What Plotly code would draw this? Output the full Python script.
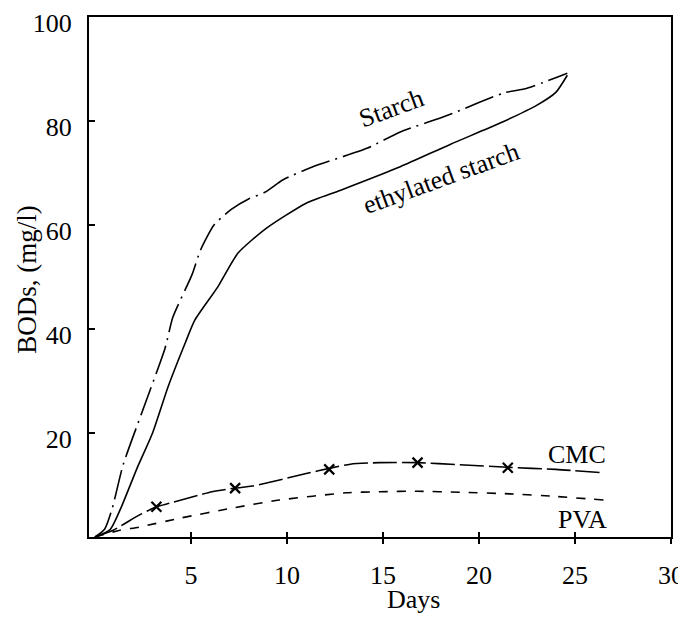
import plotly.graph_objects as go

# ---- data ----
starch_x = [0, 0.5, 0.9, 1.46, 2.45, 3.65, 4.06, 5.05, 5.5, 6.2, 7.1, 8.0, 8.85, 9.8, 11.35, 14.2, 15.9, 18.3, 21.3, 22.5, 24.6]
starch_y = [0, 1.5, 5.5, 13.8, 24, 36.3, 42.3, 50.4, 55.2, 60, 63, 65, 66.3, 68.7, 71.2, 74.8, 77.9, 81, 85.4, 86.3, 89.2]

ethyl_x = [0, 0.8, 1.4, 2.2, 3.0, 3.8, 4.7, 5.2, 6.4, 7.45, 8.9, 11.0, 12.8, 15.9, 18.5, 21.1, 23.0, 24.0, 24.6]
ethyl_y = [0, 1.5, 6, 13.3, 20, 28.8, 37.3, 41.7, 48.1, 54.6, 59.3, 64.2, 66.7, 71.2, 75.5, 79.6, 83, 85.5, 88.8]

cmc_x = [0, 0.95, 2.3, 3.2, 3.9, 6.1, 7.3, 8.2, 11.0, 12.2, 13.3, 14.8, 16.8, 19.0, 21.5, 24.0, 26.3]
cmc_y = [0, 1.3, 4.2, 5.8, 6.5, 8.7, 9.4, 9.8, 12.2, 13.2, 14.0, 14.3, 14.3, 13.9, 13.4, 13.0, 12.4]

cmc_mark_x = [3.2, 7.3, 12.2, 16.8, 21.5]
cmc_mark_y = [5.8, 9.4, 13.0, 14.3, 13.3]

pva_x = [0, 1.3, 2.3, 4.4, 7.2, 9.6, 13.1, 14.8, 16.8, 19.0, 21.6, 24.0, 26.5]
pva_y = [0, 1.3, 1.9, 3.6, 5.6, 7.1, 8.5, 8.7, 8.8, 8.6, 8.3, 7.8, 7.1]

x_ticks = [5, 10, 15, 20, 25, 30]
y_ticks = [20, 40, 60, 80, 100]

FONT = "Liberation Serif, Times New Roman, serif"
FS = 26

fig = go.Figure()
fig.add_trace(go.Scatter(x=starch_x, y=starch_y, mode="lines", name="Starch",
                         line=dict(color="black", width=1.6, dash="30px,6px,2px,6px", shape="spline", smoothing=0.6)))
fig.add_trace(go.Scatter(x=ethyl_x, y=ethyl_y, mode="lines", name="ethylated starch",
                         line=dict(color="black", width=1.6, shape="spline", smoothing=0.6)))
fig.add_trace(go.Scatter(x=cmc_x, y=cmc_y, mode="lines", name="CMC",
                         line=dict(color="black", width=1.6, dash="24px,5px", shape="spline", smoothing=0.6)))
fig.add_trace(go.Scatter(x=cmc_mark_x, y=cmc_mark_y, mode="markers", name="CMC points",
                         marker=dict(symbol="x-thin", size=10, line=dict(color="black", width=2.2))))
fig.add_trace(go.Scatter(x=pva_x, y=pva_y, mode="lines", name="PVA",
                         line=dict(color="black", width=1.6, dash="9px,9px", shape="spline", smoothing=0.6)))
# invisible trace on secondary x axis to show inside ticks (crossing tick marks)
fig.add_trace(go.Scatter(x=[0], y=[0], xaxis="x2", mode="markers", marker=dict(opacity=0),
                         showlegend=False, hoverinfo="skip"))

annos = [
    dict(x=15.4, y=82.5, text="Starch", textangle=-20),
    dict(x=18.0, y=69.0, text="ethylated starch", textangle=-20),
    dict(x=25.1, y=15.8, text="CMC", textangle=0),
    dict(x=25.4, y=3.3, text="PVA", textangle=0),
]
for a in annos:
    fig.add_annotation(x=a["x"], y=a["y"], xref="x", yref="y", text=a["text"], textangle=a["textangle"],
                       showarrow=False, font=dict(family=FONT, size=FS, color="black"))

fig.add_annotation(x=16.6, y=-0.121, xref="x", yref="paper", text="Days", showarrow=False,
                   font=dict(family=FONT, size=FS, color="black"), yanchor="middle")
fig.add_annotation(x=-0.108, y=49.5, xref="paper", yref="y", text="BODs, (mg/l)", textangle=-90, showarrow=False,
                   font=dict(family=FONT, size=27, color="black"), xanchor="center", yanchor="middle")

fig.update_layout(
    width=678, height=612,
    margin=dict(l=81, r=15, t=9, b=83, autoexpand=False),
    paper_bgcolor="white", plot_bgcolor="white",
    showlegend=False,
    font=dict(family=FONT, size=FS, color="black"),
    xaxis=dict(range=[-0.31, 30], tickvals=x_ticks, ticktext=[str(v) for v in x_ticks],
               ticks="outside", ticklen=5, tickwidth=2, tickcolor="black", automargin=False,
               ticklabeloverflow="allow",
               showline=True, linecolor="black", linewidth=2, mirror=True,
               showgrid=False, zeroline=False, ticklabelstandoff=9),
    xaxis2=dict(range=[-0.31, 30], overlaying="x", side="bottom", anchor="y", matches="x",
                tickvals=x_ticks[:-1], ticks="inside", ticklen=5, tickwidth=2, tickcolor="black",
                showticklabels=False, showline=False, showgrid=False, zeroline=False, automargin=False),
    yaxis=dict(range=[0, 100], tickvals=y_ticks, ticktext=[str(v) for v in y_ticks],
               ticks="inside", ticklen=6, tickwidth=2, tickcolor="black", automargin=False,
               ticklabeloverflow="allow", ticklabelshift=6,
               showline=True, linecolor="black", linewidth=2, mirror=True,
               showgrid=False, zeroline=False, ticklabelstandoff=10),
)

fig.write_html("out.html")
